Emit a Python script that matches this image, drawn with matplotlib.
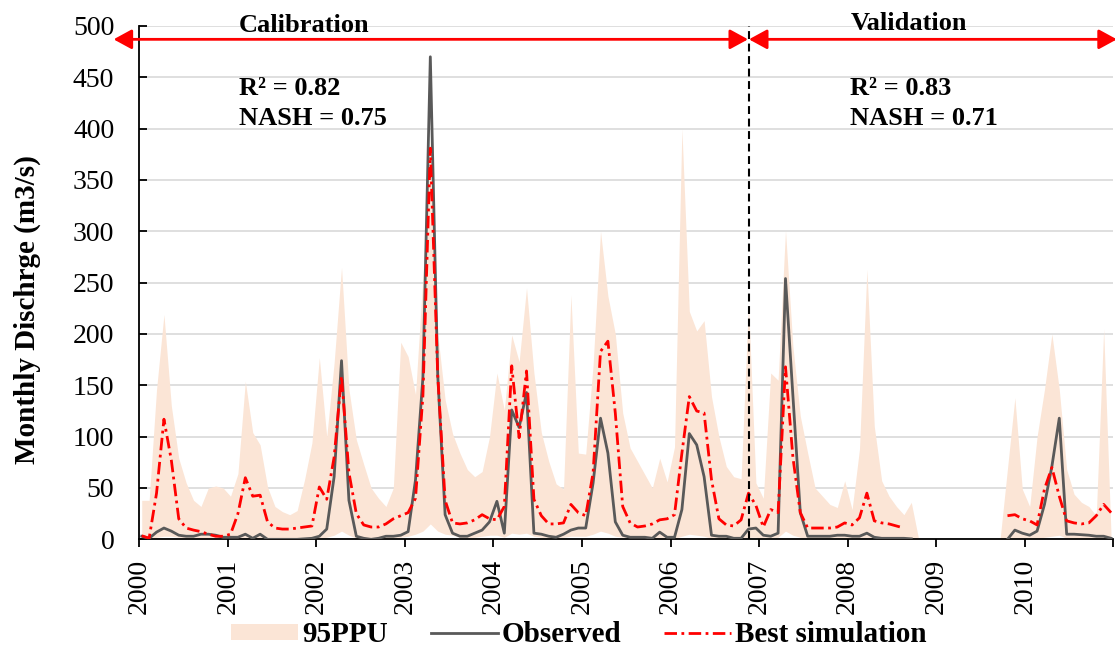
import numpy as np
import matplotlib
matplotlib.use('Agg')
import matplotlib.pyplot as plt
from matplotlib.patches import Patch
from matplotlib.lines import Line2D

plt.rcParams['font.family'] = ['Liberation Serif', 'DejaVu Serif']

nan = np.nan
years = [str(y) for y in range(2000, 2011)]

# Monthly values Jan-2000 .. Dec-2010
observed = [
    3, 1, 7, 11, 8, 4, 3, 3, 5, 5, 4, 2,
    2, 2, 5, 1, 5, 0, 0, 0, 0, 0, 0.5, 1,
    3, 10, 61, 174, 38, 3, 1, 0, 1, 3, 3, 4,
    7.5, 58, 158, 470, 160, 24, 6, 3, 3, 6, 9, 17,
    37, 6, 126, 109, 143, 6, 5, 3, 2, 5, 9, 11,
    11, 55, 118, 84, 17, 4, 2, 2, 2, 1, 7, 2,
    2, 29, 103, 92, 61, 4, 3, 3, 1, 1, 10, 11,
    4, 3, 6, 254, 140, 26, 3, 3, 3, 3, 4, 4,
    3, 3, 6, 2, 1, 1, 1, 1, 0.5, nan, nan, nan,
    nan, nan, nan, nan, nan, nan, nan, nan, nan, 0, 9, 6,
    4, 8, 34, 71, 118, 5, 5, 4.5, 4, 3, 3, 1,
]
best_sim = [
    3.5, 1, 45, 117, 77, 20, 11, 9, 7.5, 5, 3, 3,
    5, 25, 60, 42, 43, 17, 11, 10, 10, 11, 12, 13,
    51, 39, 80, 159, 65, 25, 14, 12, 12, 15, 20, 23,
    26, 40, 140, 381, 160, 38, 16, 15, 16, 19, 24, 20,
    19, 32, 169, 99, 164, 39, 23, 15, 15, 16, 34, 26,
    23, 65, 183, 193, 123, 32, 16, 12, 13, 15, 19, 20,
    24, 84, 139, 125, 123, 58, 20, 14, 13, 19, 45, 33,
    12, 29, 26, 168, 80, 26, 11, 11, 11, 11, 12, 16,
    14, 21, 45, 18, 16, 15, 13, 11, nan, nan, nan, nan,
    nan, nan, nan, nan, nan, nan, nan, nan, nan, 23, 24, 20,
    18, 14, 49, 70, 42, 18, 16, 15, 16, 23, 34, 26,
]
ppu_upper = [
    38, 38, 146, 219, 130, 79, 55, 38, 32, 50, 52, 50,
    42, 64, 154, 104, 92, 51, 32, 27, 24, 28, 58, 94,
    177, 100, 172, 265, 146, 97, 73, 50, 40, 32, 50, 192,
    178, 141, 256, 390, 200, 136, 103, 84, 68, 61, 66, 100,
    162, 126, 199, 173, 245, 162, 104, 76, 54, 49, 238, 84,
    83, 170, 300, 237, 200, 123, 89, 76, 63, 50, 79, 56,
    90, 400, 222, 203, 213, 139, 100, 71, 61, 59, 230, 55,
    40, 162, 155, 301, 188, 120, 84, 50, 42, 34, 31, 57,
    29, 88, 263, 110, 57, 42, 32, 24, 36, 0, 0, 0,
    0, 0, 0, 0, 0, 0, 0, 0, 0, 69, 138, 49,
    32, 100, 146, 200, 146, 68, 44, 36, 32, 23, 205, 3,
]
ppu_lower = [
    1, 0, 2, 3, 3, 2, 1, 1, 1, 1, 1, 1,
    1, 1, 2, 1, 1, 0, 0, 0, 0, 0, 0, 0,
    1, 2, 4, 8, 4, 1, 0, 0, 0, 1, 1, 2,
    3, 5, 8, 15, 8, 5, 4, 2, 1, 2, 3, 4,
    4, 2, 6, 5, 6, 3, 2, 1, 1, 2, 3, 3,
    3, 5, 8, 6, 3, 2, 1, 1, 1, 1, 2, 1,
    1, 3, 5, 4, 3, 1, 1, 1, 1, 1, 2, 2,
    1, 1, 2, 8, 4, 2, 1, 1, 1, 1, 1, 1,
    1, 1, 2, 1, 0, 0, 0, 0, 0, 0, 0, 0,
    0, 0, 0, 0, 0, 0, 0, 0, 0, 0, 1, 1,
    1, 1, 2, 3, 4, 1, 1, 1, 1, 0, 1, 0,
]

n = len(observed)
t = 2000.028 + np.arange(n) * (7.391 / 88.45)

fig = plt.figure(figsize=(11.15, 6.48), dpi=100)
ax = fig.add_axes([0.1249, 0.1677, 0.8736, 0.7922])

ax.set_xlim(2000, 2011)
ax.set_ylim(0, 500)
ax.yaxis.grid(True, color='#D9D9D9', lw=1.2, zorder=0)
ax.set_axisbelow(True)

ax.fill_between(t, ppu_lower, ppu_upper, color='#FBE5D6', lw=0, zorder=1)
ax.plot(t, observed, color='#595959', lw=2.0, zorder=3)
ax.plot(t, best_sim, color='#FF0000', lw=2.0, dashes=(4.5, 1.6, 1, 1.6), zorder=4)

ax.axvline(2006.887, color='black', lw=1.5, ls=(0, (3.8, 2.2)), zorder=5)

# arrows
arrow_kw = dict(arrowstyle='<|-|>,head_length=0.55,head_width=0.3', color='#FF0000', lw=2,
                shrinkA=0, shrinkB=0, mutation_scale=20)
ax.annotate('', xy=(1999.71, 487), xytext=(2006.875, 487), arrowprops=arrow_kw,
            annotation_clip=False)
ax.annotate('', xy=(2006.885, 487), xytext=(2011.04, 487), arrowprops=arrow_kw,
            annotation_clip=False)

tkw = dict(fontsize=19, fontweight='bold', ha='left', va='center', clip_on=False)
ax.text(2001.127, 500, 'Calibration', **tkw)
ax.text(2001.127, 439.5, 'R² = 0.82', **tkw)
ax.text(2001.127, 410, 'NASH = 0.75', **tkw)
ax.text(2008.03, 502, 'Validation', **tkw)
ax.text(2008.03, 439.5, 'R² = 0.83', **tkw)
ax.text(2008.03, 410, 'NASH = 0.71', **tkw)

for s in ['top', 'right']:
    ax.spines[s].set_visible(False)
for s in ['left', 'bottom']:
    ax.spines[s].set_color('black')
    ax.spines[s].set_linewidth(1.3)

ax.set_yticks(np.arange(0, 501, 50))
ax.set_xticks(np.arange(2000, 2011))
ax.set_xticklabels(years, rotation=90)
ax.tick_params(axis='y', direction='in', length=6, width=1.3, pad=18, labelsize=20)
ax.tick_params(axis='x', direction='out', length=6, width=1.3, pad=8, labelsize=20)
ax.set_xticks([2011], minor=True)
ax.tick_params(axis='x', which='minor', direction='out', length=6, width=1.3)

fig.text(27 / 1115, 1 - 310 / 648, 'Monthly Dischrge (m3/s)', rotation=90,
         fontsize=21, fontweight='bold', ha='center', va='center')

handles = [Patch(facecolor='#FBE5D6', edgecolor='none'),
           Line2D([], [], color='#595959', lw=2),
           Line2D([], [], color='#FF0000', lw=2, dashes=(4.5, 1.6, 1, 1.6))]
fig.legend(handles, ['95PPU', 'Observed', 'Best simulation'], ncol=3,
           loc='center', bbox_to_anchor=(579 / 1115, 1 - 635 / 648), frameon=False,
           prop={'size': 21, 'weight': 'bold'}, handlelength=2.3, handletextpad=0.15,
           columnspacing=1.45, handleheight=0.5, borderpad=0.1)

fig.savefig('out.png', dpi=100)
